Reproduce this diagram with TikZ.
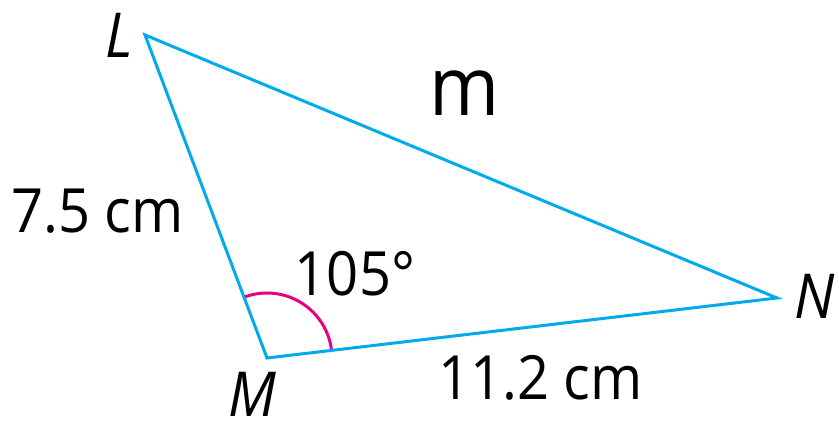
\documentclass[tikz,border=0pt]{standalone}
\usepackage{fontspec}
\setmainfont{Open Sans}[FakeStretch=0.92]
\definecolor{tri}{RGB}{0,170,235}
\definecolor{arcc}{RGB}{230,0,130}
\tikzset{
  side/.style={draw=tri,line width=3pt,line join=miter},
  anglemark/.style={draw=arcc,line width=3pt},
  lbl/.style={inner sep=0pt,font=\fontsize{61}{61}\selectfont},
  vlbl/.style={inner sep=0pt,font=\fontsize{62}{62}\selectfont\itshape},
}
\begin{document}
\begin{tikzpicture}[x=1pt,y=1pt]
\useasboundingbox (0,0) rectangle (839,424);
\coordinate (L) at (145,389);
\coordinate (M) at (267,66);
\coordinate (N) at (777,126);
\draw[anglemark] ([shift={(6.7:65)}]M) arc[start angle=6.7,end angle=110.7,radius=65];
\draw[side] (L) -- (M) -- (N) -- cycle;
\node[vlbl] (lL) at (119,389) {L};
\node[vlbl] (lM) at (252,30) {M};
\node[vlbl] (lN) at (815,128) {N};
\node[inner sep=0pt,font=\fontsize{82}{82}\selectfont] (lm) at (465,331) {m};
\node[lbl] (a) at (97.5,213) {7.5 cm};
\node[lbl] (b) at (355,150.5) {105°};
\node[lbl] (c) at (540.5,46.5) {11.2 cm};
\end{tikzpicture}
\end{document}
